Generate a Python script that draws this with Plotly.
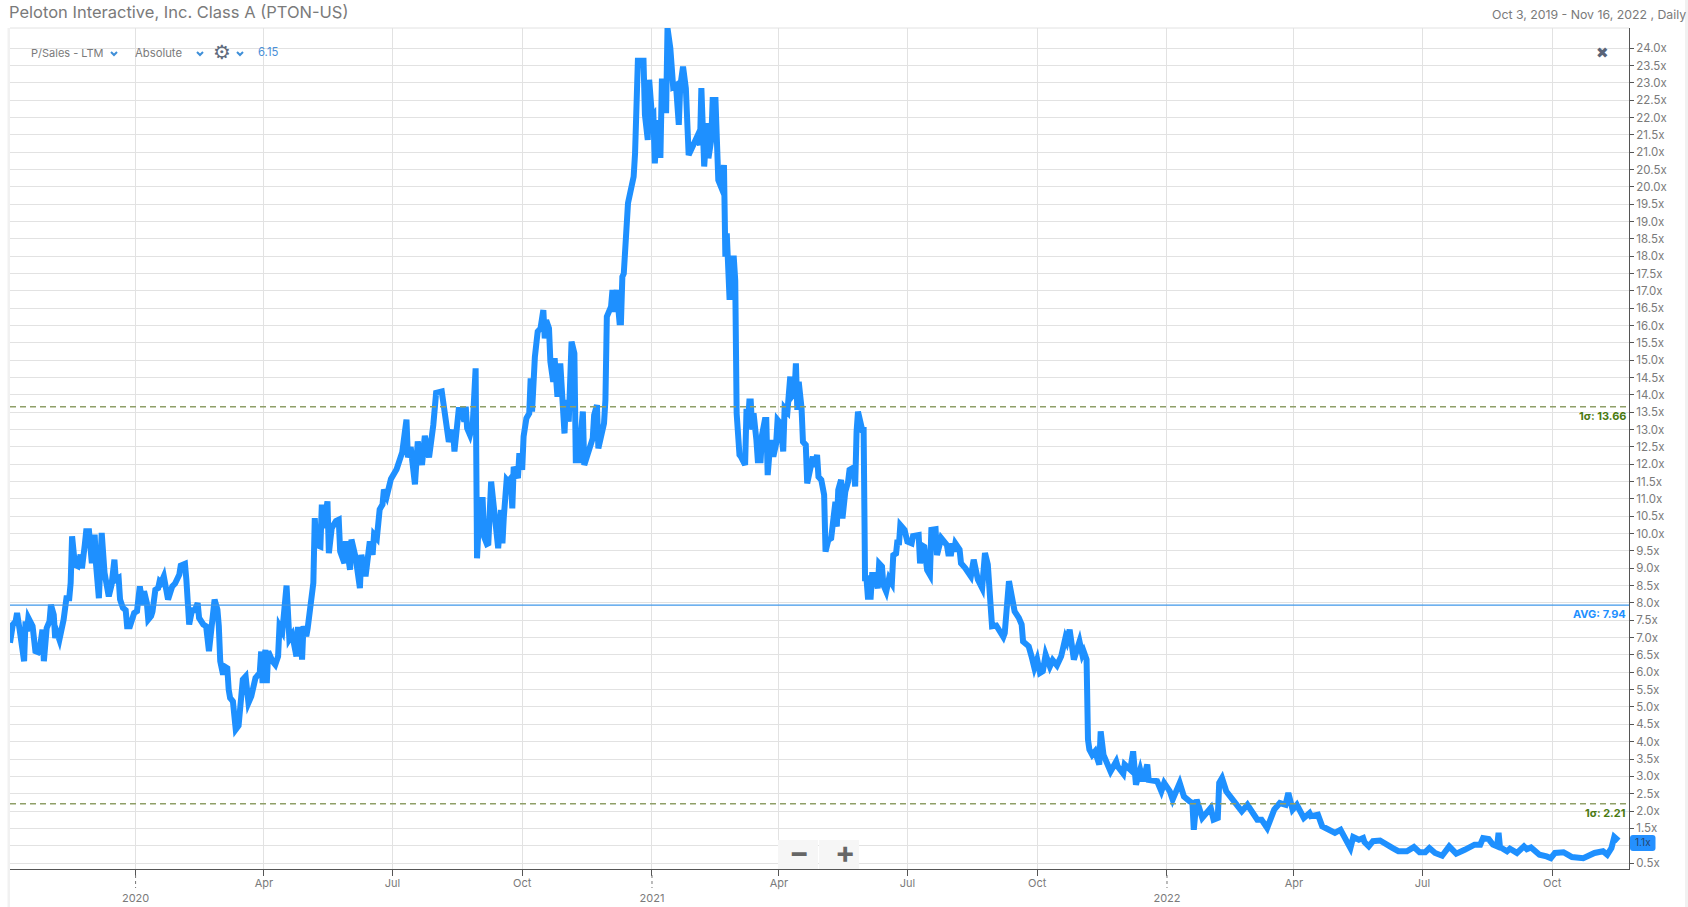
import pandas as pd
import plotly.graph_objects as go

START = "2019-10-04"
# (days since START, P/Sales multiple)
obs_2019 = [(0,6.85),(2,7.38),(4,7.47),(5,7.71),(7,7.18),(10,6.32),(11,7.47),(12,7.18),(13,7.57),(16,7.33),(18,6.61),(20,6.58),(21,6.65),(23,7.23),(24,6.32),(26,7.28),(28,7.47),(29,7.95),(31,7.66),(32,6.99),(33,7.18),(35,6.94),(38,7.52),(39,7.76),(40,8.14),(42,8.14),(43,8.58),(44,9.92),(46,9.1),(48,9.06),(50,9.39),(51,9.0),(52,9.63),(53,9.68),(54,10.07),(56,10.07),(58,9.15),(59,9.97),(60,9.97),(61,9.1),(63,8.14),(65,10.02),(67,8.87),(70,8.19),(72,8.53),(74,9.25),(75,8.67),(77,8.72),(78,8.1),(80,7.86),(82,7.79),(83,7.33),(85,7.33),(88,7.71)]
obs_2020 = [(90,7.76),(92,8.48),(94,7.95),(95,8.34),(97,8.0),(98,7.52),(100,7.62),(101,7.76),(103,8.38),(105,8.43),(106,8.62),(107,8.58),(109,8.77),(112,8.1),(115,8.48),(117,8.56),(119,8.77),(120,8.82),(121,9.08),(124,9.13),(125,8.67),(126,7.81),(127,7.38),(129,7.79),(131,7.79),(133,8.0),(134,7.57),(137,7.38),(139,7.33),(141,6.61),(143,7.28),(145,8.1),(147,7.81),(148,7.33),(149,6.32),(151,5.93),(152,6.17),(154,6.12),(155,5.5),(156,5.26),(158,5.16),(160,4.35),(162,4.46),(165,5.79),(167,5.88),(169,5.12),(171,5.31),(172,5.55),(174,5.84),(177,5.98),(178,6.6),(179,5.69),(181,6.65),(182,5.69),(183,6.6),(186,6.32),(188,6.22),(190,6.46),(191,7.33),(193,7.18),(195,8.43),(196,8.5),(198,6.96),(200,7.09),(203,6.46),(204,7.23),(206,7.23),(207,6.37),(208,7.33),(210,7.04),(211,7.28),(213,7.95),(215,8.58),(216,10.45),(217,9.68),(220,9.63),(221,10.84),(222,10.16),(224,10.93),(225,10.93),(226,9.44),(228,10.16),(231,10.36),(233,10.4),(234,9.49),(237,9.15),(238,9.78),(240,8.96),(241,8.96),(242,9.83),(245,9.3),(248,8.43),(249,9.39),(252,8.77),(254,9.78),(255,9.78),(257,9.39),(258,9.97),(260,9.87),(262,10.7),(264,10.84),(265,11.27),(267,11.08),(270,11.58),(274,11.86),(278,12.35),(281,13.29),(282,12.2),(284,12.5),(287,11.42),(289,12.66),(292,11.98),(294,12.82),(297,12.2),(300,13.13),(302,14.06),(306,14.1),(308,13.38),(311,12.65),(314,12.99),(315,12.37),(318,13.57),(320,13.57),(322,13.23),(323,13.66),(324,13.04),(326,12.85),(328,13.18),(329,14.77),(330,14.77),(331,9.29),(333,10.97),(335,10.97),(336,9.91),(338,9.7),(339,9.72),(341,11.5),(344,10.39),(346,9.58),(348,10.68),(349,9.72),(350,10.49),(352,11.55),(353,11.5),(355,11.6),(356,10.73),(357,11.93),(360,11.6),(361,12.32),(363,11.84),(364,12.8),(366,13.33),(368,13.47),(369,14.48),(370,13.52),(372,15.1),(374,15.83),(376,15.92),(377,16.45),(378,16.45),(379,15.63),(380,16.16),(382,15.92),(383,14.96),(385,14.38),(386,15.06),(388,13.95),(390,14.91),(393,12.89),(394,13.86),(396,13.23),(398,15.54),(400,15.2),(401,12.12),(403,12.12),(405,13.09),(406,13.52),(407,11.98),(410,12.32),(413,12.75),(414,13.42),(416,13.71),(417,12.46),(419,12.94),(421,13.18),(422,13.86),(423,16.26),(426,16.55),(427,17.03),(428,16.4),(430,17.03),(432,16.1),(433,16.1),(434,17.41),(435,17.5),(438,19.53),(442,20.3),(443,20.97),(444,23.38),(445,23.64),(449,23.64),(450,22.08),(452,21.36),(453,23.09),(455,22.03)]
obs_2021 = [(456,22.08),(457,20.68),(459,21.93),(460,20.92),(461,20.92),(462,23.04),(464,23.04),(465,22.13),(466,24.58),(468,24.0),(470,22.89),(472,22.94),(473,21.79),(474,21.79),(475,22.89),(477,23.47),(479,22.85),(480,21.45),(481,20.92),(487,21.45),(489,21.21),(490,22.85),(491,21.26),(492,20.59),(494,21.84),(495,20.83),(497,21.36),(498,22.51),(500,22.51),(502,20.2),(504,20.0),(506,20.63),(507,17.99),(508,18.66),(510,16.74),(511,17.94),(513,17.94),(514,17.3),(515,13.47),(516,12.7),(517,12.27),(518,12.22),(520,11.98),(521,11.98),(522,13.6),(523,13.13),(524,13.81),(525,13.81),(526,13.0),(527,13.47),(529,12.7),(530,12.12),(532,12.12),(533,12.85),(535,13.28),(536,13.28),(537,11.69),(539,12.7),(541,12.22),(543,12.6),(544,13.28),(546,13.18),(548,12.37),(549,13.62),(551,13.52),(552,14.53),(553,14.53),(554,13.95),(556,14.05),(557,14.91),(558,13.57),(559,14.38),(561,13.62),(562,12.65),(564,12.56),(565,11.45),(567,11.88),(569,12.22),(570,11.93),(572,12.27),(573,11.64),(575,11.55),(577,11.12),(578,9.48),(580,9.82),(582,9.87),(585,10.92),(586,10.2),(587,11.26),(589,11.55),(590,10.44),(592,11.21),(594,11.5),(595,11.84),(598,11.91),(599,11.36),(600,12.94),(601,13.52),(604,12.99),(605,12.99),(606,8.71),(607,8.71),(608,8.18),(610,8.18),(611,8.81),(613,8.81),(615,8.42),(616,9.14),(618,9.05),(619,8.52),(621,8.33),(623,8.71),(625,8.57),(626,9.38),(628,9.43),(629,9.82),(630,9.67),(631,10.25),(634,10.11),(636,9.77),(639,9.72),(640,9.93),(644,9.96),(645,9.14),(646,9.67),(648,9.62),(650,8.95),(652,8.81),(653,10.11),(656,10.13),(657,9.38),(660,9.87),(664,9.67),(665,9.43),(667,9.43),(668,9.72),(669,9.48),(670,9.72),(673,9.54),(674,9.15),(677,9.01),(681,8.77),(683,9.25),(686,8.67),(689,8.43),(690,9.3),(691,9.44),(693,9.11),(694,8.34),(695,8.1),(696,7.33),(699,7.35),(701,7.18),(704,7.02),(705,7.13),(708,8.63),(710,8.19),(712,7.76),(715,7.57),(717,7.38),(718,6.89),(722,6.75),(724,6.46),(726,6.13),(728,6.37),(730,5.98),(732,6.03),(734,6.51),(737,6.17),(739,6.35),(742,6.2),(745,6.46),(748,6.99),(749,6.89),(751,7.23),(754,6.37),(758,6.89),(760,6.51),(761,6.6),(763,6.37),(764,4.06),(765,3.77),(767,3.62),(769,3.72),(772,3.34),(773,4.3),(775,3.62),(777,3.43),(780,3.14),(784,3.43),(785,3.29),(789,3.08),(790,3.34),(794,3.19),(796,3.72),(798,2.76),(801,3.19),(803,2.86),(806,3.34),(807,2.9),(810,2.86),(813,2.86),(816,2.57),(818,2.81)]
obs_2022 = [(822,2.57),(824,2.33),(829,2.81),(832,2.42),(836,2.28),(838,2.23),(839,1.46),(841,2.33),(845,1.8),(851,2.09),(853,1.75),(856,1.8),(857,2.81),(859,2.95),(862,2.57),(864,2.47),(868,2.23),(873,1.99),(877,2.18),(884,1.75),(887,1.75),(891,1.51),(896,2.04),(900,2.23),(904,2.18),(906,2.52),(909,2.04),(912,2.18),(917,1.8),(921,1.94),(922,1.85),(927,1.89),(930,1.56),(938,1.41),(939,1.37),(943,1.46),(946,1.22),(950,0.93),(952,1.25),(956,1.17),(959,1.22),(960,1.1),(963,0.98),(966,1.13),(971,1.15),(976,1.05),(980,0.93),(984,0.84),(990,0.84),(995,0.96),(999,0.81),(1003,0.81),(1006,0.93),(1010,0.79),(1015,0.71),(1020,0.98),(1025,0.77),(1031,0.88),(1035,0.98),(1038,1.03),(1042,1.03),(1044,1.22),(1048,1.19),(1051,1.03),(1054,0.98),(1055,1.37),(1056,0.96),(1061,0.84),(1063,0.91),(1068,0.79),(1073,0.98),(1075,0.9),(1078,0.95),(1084,0.74),(1089,0.69),(1092,0.64),(1095,0.79),(1101,0.81),(1104,0.74),(1107,0.67),(1115,0.64),(1123,0.79),(1129,0.84),(1132,0.74),(1135,0.93),(1137,1.25),(1140,1.14)]

tick_dates = ["2020-01-01","2020-04-01","2020-07-01","2020-10-01","2021-01-01","2021-04-01","2021-07-01","2021-10-01","2022-01-01","2022-04-01","2022-07-01","2022-10-01"]
tick_text = ["<br>2020","Apr","Jul","Oct","<br>2021","Apr","Jul","Oct","<br>2022","Apr","Jul","Oct"]
year_ticks = ["2020-01-01","2021-01-01","2022-01-01"]
y_ticks = [0.5,1.0,1.5,2.0,2.5,3.0,3.5,4.0,4.5,5.0,5.5,6.0,6.5,7.0,7.5,8.0,8.5,9.0,9.5,10.0,10.5,11.0,11.5,12.0,12.5,13.0,13.5,14.0,14.5,15.0,15.5,16.0,16.5,17.0,17.5,18.0,18.5,19.0,19.5,20.0,20.5,21.0,21.5,22.0,22.5,23.0,23.5,24.0]
AVG = 7.94
SIGMA_HI = 13.66
SIGMA_LO = 2.21
LAST_TAG = 1.1

obs = obs_2019 + obs_2020 + obs_2021 + obs_2022
dates = pd.Timestamp(START) + pd.to_timedelta([o[0] for o in obs], unit="D")
values = [o[1] for o in obs]
# the 1.0x label sits under the tag of the last value, so it is left blank
y_tick_text = ["" if v == 1.0 else f"{v:.1f}x" for v in y_ticks]

W, H = 1688, 907
L, R, T, B = 10, 1629, 28, 869
FONT = "Inter"
GREY = "#7a7a7a"
BLUE = "#1e90ff"
GREEN = "#4a7a12"
def px(x): return (x - L) / (R - L)
def py(y): return (B - y) / (B - T)

fig = go.Figure(go.Scatter(x=dates, y=values, mode="lines", line=dict(color=BLUE, width=6),
                           hoverinfo="skip", showlegend=False))

shapes = []
# panel shadow edges
shapes.append(dict(type="rect", xref="paper", yref="paper", x0=px(7.5), x1=px(L), y0=py(907), y1=py(T), line_width=0, fillcolor="#f1f1f1", layer="below"))
shapes.append(dict(type="rect", xref="paper", yref="paper", x0=px(1685), x1=px(1688), y0=py(907), y1=py(0), line_width=0, fillcolor="#f1f1f1", layer="below"))
shapes.append(dict(type="line", xref="paper", yref="paper", x0=px(L), x1=px(R), y0=py(T), y1=py(T), line=dict(color="#e2e2e2", width=1), layer="below"))
for v, c, w, d in [(SIGMA_HI, "#8f9f68", 1.5, "6px,4px"), (SIGMA_LO, "#8f9f68", 1.5, "6px,4px"), (AVG, "#3f97ea", 1.2, "solid")]:
    shapes.append(dict(type="line", xref="paper", yref="y", x0=px(L), x1=px(R), y0=v, y1=v, line=dict(color=c, width=w, dash=d), layer="above"))
for yt in year_ticks:
    shapes.append(dict(type="line", xref="x", yref="paper", x0=yt, x1=yt, y0=py(875), y1=py(888), line=dict(color="#777", width=1, dash="dot")))
# zoom buttons
shapes.append(dict(type="rect", xref="paper", yref="paper", x0=px(778), x1=px(818), y0=py(869), y1=py(840), line_width=0, fillcolor="#f6f6f6"))
shapes.append(dict(type="rect", xref="paper", yref="paper", x0=px(819), x1=px(859), y0=py(869), y1=py(840), line_width=0, fillcolor="#f6f6f6"))
# tag of the last value
x0, x1, y0, y1 = px(1630), px(1655.5), py(851), py(835)
rx, ry = 3 / (R - L), 3 / (B - T)
shapes.append(dict(type="path", xref="paper", yref="paper", fillcolor="#2490ff", line_width=0,
    path=f"M {x0+rx} {y0} L {x1-rx} {y0} Q {x1} {y0} {x1} {y0+ry} L {x1} {y1-ry} Q {x1} {y1} {x1-rx} {y1} L {x0+rx} {y1} Q {x0} {y1} {x0} {y1-ry} L {x0} {y0+ry} Q {x0} {y0} {x0+rx} {y0} Z"))
# chevrons
for cx in (114, 200, 240):
    shapes.append(dict(type="path", xref="paper", yref="paper", line=dict(color="#3f8fd8", width=2),
        path=f"M {px(cx-3)} {py(52)} L {px(cx)} {py(55)} L {px(cx+3)} {py(52)}"))

def note(text, x, y, size, color, anchor="left", bold=False, family=FONT, yref="paper", yshift=0):
    return dict(text=f"<b>{text}</b>" if bold else text, x=x, y=y, xref="paper", yref=yref, xanchor=anchor, yanchor="middle",
                showarrow=False, font=dict(family=family, size=size, color=color), yshift=yshift, borderpad=0, borderwidth=0)

annotations = [
    note("Peloton Interactive, Inc. Class A (PTON-US)", px(9), py(12), 16.5, GREY),
    note("Oct 3, 2019 - Nov 16, 2022 , Daily", px(1685.5), py(14), 12.3, GREY, "right"),
    note("P/Sales - LTM", px(30.5), py(53), 11, GREY),
    note("Absolute", px(134.5), py(53), 11.3, GREY),
    note("\u2699", px(222), py(52), 20, "#5f6b7c", "center", family="DejaVu Sans"),
    note("6.15", px(258), py(52), 11.3, "#4a90d9"),
    note("\u2716", px(1602), py(53), 15, "#5a6478", "center", family="DejaVu Sans"),
    note("1\u03c3: 13.66", px(1626), SIGMA_HI, 11, GREEN, "right", True, yref="y", yshift=-9),
    note("AVG: 7.94", px(1626), AVG, 11, BLUE, "right", True, yref="y", yshift=-9),
    note("1\u03c3: 2.21", px(1626), SIGMA_LO, 11, GREEN, "right", True, yref="y", yshift=-9),
    note("1.1x", px(1643), LAST_TAG, 10, "#24466e", "center", yref="y"),
    note("<b>\u2212</b>", px(798.5), py(852), 30, "#666", "center"),
    note("<b>+</b>", px(845), py(852), 30, "#666", "center"),
]

days_right = (R - L) * 1140 / 1608.5
fig.update_layout(
    template="none",
    width=W, height=H, autosize=False, paper_bgcolor="white", plot_bgcolor="white",
    margin=dict(l=L, r=W - R, t=T, b=H - B, pad=0),
    font=dict(family=FONT, color=GREY, size=11),
    shapes=shapes, annotations=annotations, showlegend=False,
    xaxis=dict(type="date", range=[START, pd.Timestamp(START) + pd.Timedelta(days=days_right)], automargin=False,
               tickmode="array", tickvals=tick_dates, ticktext=tick_text, ticks="outside", ticklen=6, tickcolor="#555",
               ticklabelstandoff=-2,
               showgrid=True, gridcolor="#e2e2e2", gridwidth=1, showline=True, linecolor="#555", linewidth=1,
               tickfont=dict(family=FONT, size=11, color=GREY), zeroline=False),
    yaxis=dict(side="right", range=[0.327, 24.585], tickmode="array", tickvals=y_ticks, ticktext=y_tick_text, automargin=False,
               ticks="outside", ticklen=4, tickcolor="#555", showgrid=True, gridcolor="#e2e2e2", gridwidth=1,
               showline=True, linecolor="#555", linewidth=1, tickfont=dict(family=FONT, size=11.5, color=GREY), zeroline=False),
)

post = """
document.body.style.margin='0';
document.querySelectorAll('.scatterlayer path.js-line').forEach(p=>{p.style.strokeLinejoin='miter';p.style.strokeMiterlimit='4';});
"""
fig.write_html("out.html", post_script=post, config={"displayModeBar": False})
